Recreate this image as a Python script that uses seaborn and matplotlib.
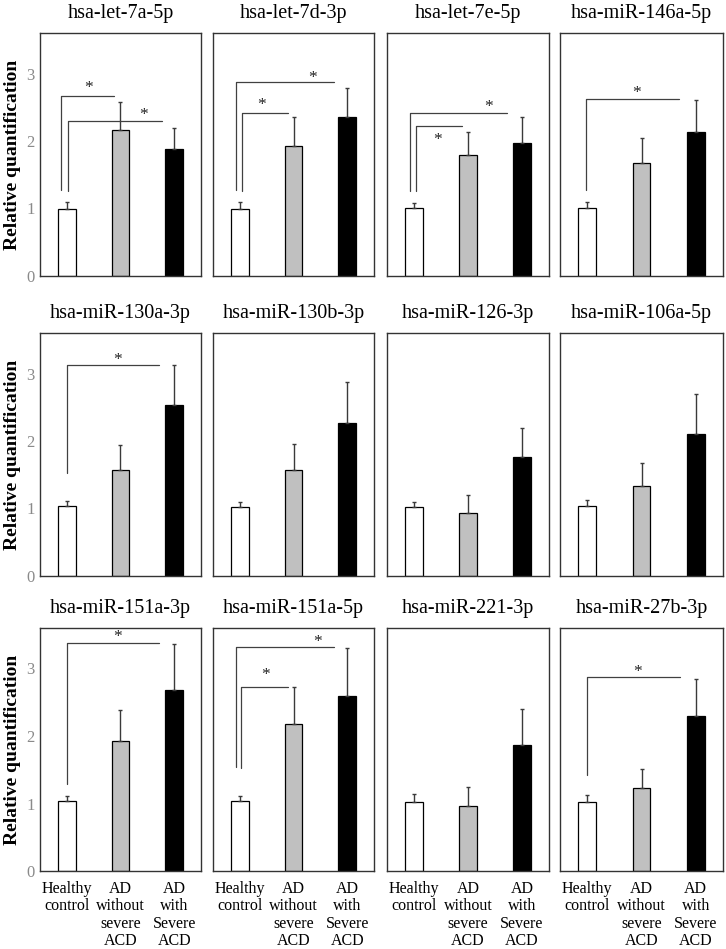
import matplotlib
matplotlib.use('Agg')
import matplotlib.pyplot as plt
import seaborn as sns
import pandas as pd

sns.set_theme(style='white')
plt.rcParams['font.family'] = ['Liberation Serif', 'DejaVu Serif']

mirnas = ['hsa-let-7a-5p', 'hsa-let-7d-3p', 'hsa-let-7e-5p', 'hsa-miR-146a-5p',
          'hsa-miR-130a-3p', 'hsa-miR-130b-3p', 'hsa-miR-126-3p', 'hsa-miR-106a-5p',
          'hsa-miR-151a-3p', 'hsa-miR-151a-5p', 'hsa-miR-221-3p', 'hsa-miR-27b-3p']
groups = ['Healthy\ncontrol', 'AD\nwithout\nsevere\nACD', 'AD\nwith\nSevere\nACD']
group_colors = ['white', '#c0c0c0', 'black']

hc_mean = [1.00, 1.00, 1.01, 1.01, 1.03, 1.02, 1.02, 1.03, 1.04, 1.04, 1.02, 1.02]
hc_err = [0.09, 0.09, 0.07, 0.08, 0.08, 0.07, 0.07, 0.09, 0.07, 0.07, 0.12, 0.11]
mid_mean = [2.16, 1.93, 1.80, 1.67, 1.57, 1.57, 0.94, 1.34, 1.92, 2.18, 0.96, 1.23]
mid_err = [0.42, 0.42, 0.34, 0.38, 0.37, 0.39, 0.26, 0.33, 0.46, 0.55, 0.29, 0.28]
sev_mean = [1.88, 2.35, 1.97, 2.13, 2.53, 2.26, 1.76, 2.11, 2.68, 2.60, 1.87, 2.29]
sev_err = [0.32, 0.44, 0.38, 0.48, 0.59, 0.62, 0.43, 0.58, 0.69, 0.70, 0.53, 0.55]

# significance brackets: panel, x start, x end, top line, left-leg bottom, star x, star y
sig_panel = [0, 0, 1, 1, 2, 2, 3, 4, 8, 9, 9, 11]
sig_x0 = [-0.11, 0.02, 0.04, -0.08, 0.03, -0.07, -0.02, 0.01, 0.01, 0.03, -0.08, 0.00]
sig_x1 = [0.87, 1.78, 0.90, 1.75, 0.88, 1.73, 1.69, 1.71, 1.71, 0.90, 1.76, 1.71]
sig_top = [2.66, 2.29, 2.41, 2.88, 2.22, 2.41, 2.62, 3.12, 3.38, 2.72, 3.32, 2.87]
sig_leg = [1.27, 1.26, 1.26, 1.28, 1.26, 1.26, 1.28, 1.52, 1.29, 1.53, 1.54, 1.42]
star_x = [0.41, 1.43, 0.41, 1.36, 0.43, 1.38, 0.91, 0.94, 0.94, 0.48, 1.44, 0.93]
star_y = [2.86, 2.46, 2.60, 3.01, 2.08, 2.57, 2.79, 3.27, 3.54, 2.98, 3.47, 3.02]

rows = []
for i, m in enumerate(mirnas):
    for g, mu, e in zip(groups, [hc_mean[i], mid_mean[i], sev_mean[i]],
                        [hc_err[i], mid_err[i], sev_err[i]]):
        rows.append({'mirna': m, 'group': g, 'mean': mu, 'err': e})
df = pd.DataFrame(rows)

W, H = 726, 949
fig = plt.figure(figsize=(W / 100, H / 100), dpi=100)
col_x = [40, 213, 387, 560]
col_w = [161, 161, 162, 163]
row_y = [33, 333, 628]
row_h = 243

palette = dict(zip(groups, group_colors))
for i, m in enumerate(mirnas):
    r, c = divmod(i, 4)
    ax = fig.add_axes([col_x[c] / W, 1 - (row_y[r] + row_h) / H, col_w[c] / W, row_h / H])
    sub = df[df['mirna'] == m]
    sns.barplot(data=sub, x='group', y='mean', hue='group', order=groups, hue_order=groups,
                palette=palette, saturation=1, width=0.33, edgecolor='black', linewidth=0.9,
                errorbar=None, legend=False, ax=ax)
    ax.errorbar(x=[0, 1, 2], y=sub['mean'].values, yerr=[[0, 0, 0], sub['err'].values],
                fmt='none', ecolor='#3a3a3a', elinewidth=1.0, capsize=1.5, capthick=1.0, zorder=3)
    ax.set_xlim(-0.5, 2.5)
    ax.set_ylim(0, 3.6)
    ax.set_yticks([0, 1, 2, 3])
    ax.tick_params(axis='both', length=0)
    if c == 0:
        ax.set_yticklabels(['0', '1', '2', '3'], color='#8a8a8a', fontsize=12)
        ax.tick_params(axis='y', pad=4)
        ax.set_ylabel('Relative quantification', fontsize=14, fontweight='bold', color='black')
        ax.yaxis.set_label_coords(-0.12, 0.5)
    else:
        ax.set_yticklabels([])
        ax.set_ylabel('')
    if r == 2:
        ax.set_xticks([0, 1, 2])
        ax.set_xticklabels(groups, fontsize=11.5, color='black', linespacing=1.12)
        ax.tick_params(axis='x', pad=7)
    else:
        ax.set_xticklabels([])
    ax.set_xlabel('')
    ax.set_title(m, fontsize=14.5, pad=11, color='black')
    for s in ax.spines.values():
        s.set_visible(True)
        s.set_color('#333333')
        s.set_linewidth(1.0)

for k, p in enumerate(sig_panel):
    ax = fig.axes[p]
    ax.plot([sig_x0[k], sig_x0[k], sig_x1[k]], [sig_leg[k], sig_top[k], sig_top[k]],
            color='#404040', linewidth=0.9, zorder=4)
    ax.annotate('*', (star_x[k], star_y[k]), xytext=(0, -3.5), textcoords='offset points',
                ha='center', va='center', fontsize=12.5, color='#222222')

fig.savefig('out.png', dpi=100)
